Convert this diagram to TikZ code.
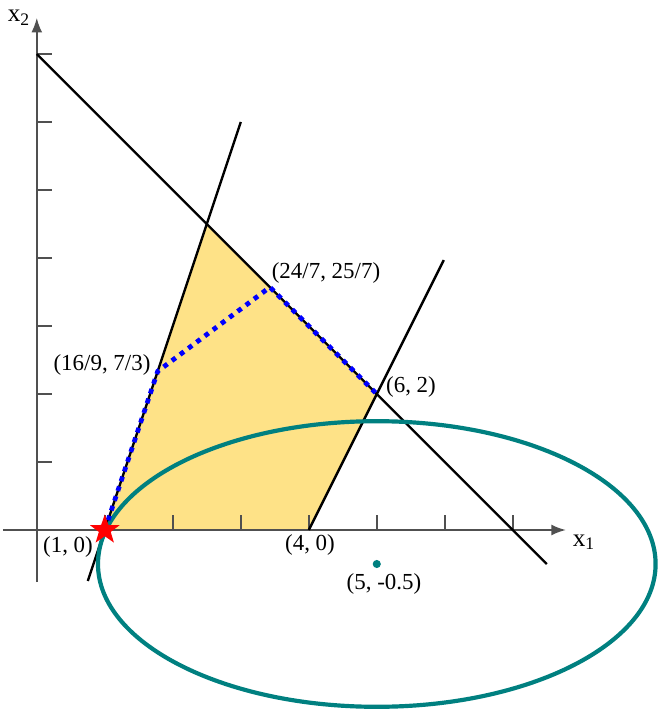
\documentclass[tikz,border=0pt]{standalone}
\usepackage{fontspec}
\setmainfont{Liberation Serif}
\usetikzlibrary{arrows.meta,shapes.geometric}
\definecolor{feas}{RGB}{254,226,135}
\definecolor{tealc}{RGB}{0,128,128}
\definecolor{axisc}{RGB}{80,80,80}
\begin{document}
\begin{tikzpicture}[x=1cm,y=1cm,
  axisline/.style={axisc,line width=0.65pt},
  tickline/.style={axisc,line width=0.65pt},
  conline/.style={black,line width=1pt},
  pathline/.style={blue,line width=2pt,dash pattern=on 2pt off 2.3pt},
  lbl/.style={font=\fontsize{9.6}{11}\selectfont,inner sep=0pt},
  axlbl/.style={font=\fontsize{10.5}{12}\selectfont,inner sep=0pt}]
\useasboundingbox (-0.541,-2.647) rectangle (9.121,7.794);
% key points
\coordinate (A) at (1,0);
\coordinate (B) at (16/9,7/3);
\coordinate (C) at (24/7,25/7);
\coordinate (D) at (5,2);
\coordinate (E) at (4,0);
\coordinate (F) at (2.5,4.5);
% feasible region
\fill[feas] (A) -- (F) -- (D) -- (E) -- cycle;
% axes
\coordinate (xl) at (-0.497,0);
\coordinate (xr) at (7.78,0);
\coordinate (yb) at (0,-0.765);
\coordinate (yt) at (0,7.53);
\draw[axisline,-{Latex[length=6pt,width=4.5pt]}] (xl) -- (xr);
\draw[axisline,-{Latex[length=6pt,width=4.5pt]}] (yb) -- (yt);
\foreach \i in {1,...,7}{
  \draw[tickline] (\i,0) -- (\i,0.22);
  \draw[tickline] (0,\i) -- (0.23,\i);
}
\node[axlbl] (x1) at (8.05,-0.18) {x\textsubscript{1}};
\node[axlbl] (x2) at (-0.26,7.53) {x\textsubscript{2}};
% constraint lines
\coordinate (L1a) at (0.75,-0.75);
\coordinate (L1b) at (3,6);
\coordinate (L2a) at (4,0);
\coordinate (L2b) at (5.985,3.97);
\coordinate (L3a) at (0,7);
\coordinate (L3b) at (7.5,-0.5);
\draw[conline] (L1a) -- (L1b);
\draw[conline] (L2a) -- (L2b);
\draw[conline] (L3a) -- (L3b);
% ellipse
\node[coordinate] (ctr) at (5,-0.5) {};
\draw[tealc,line width=1.75pt] (ctr) ellipse [x radius=4.1, y radius=2.1];
% path of iterates
\draw[pathline] (A) -- (B) -- (C) -- (D);
% markers
\node[star,star points=5,star point ratio=2.5,fill=red,draw=none,minimum size=13pt,inner sep=0pt] (st) at (A) {};
\fill[tealc] (ctr) circle (1.7pt);
% labels
\node[lbl] (lA) at (0.459,-0.25) {(1, 0)};
\node[lbl] (lE) at (4.018,-0.22) {(4, 0)};
\node[lbl] (lc) at (5.106,-0.794) {(5, -0.5)};
\node[lbl] (lB) at (0.959,2.426) {(16/9, 7/3)};
\node[lbl] (lC) at (4.253,3.779) {(24/7, 25/7)};
\node[lbl] (lD) at (5.503,2.103) {(6, 2)};
\end{tikzpicture}
\end{document}
